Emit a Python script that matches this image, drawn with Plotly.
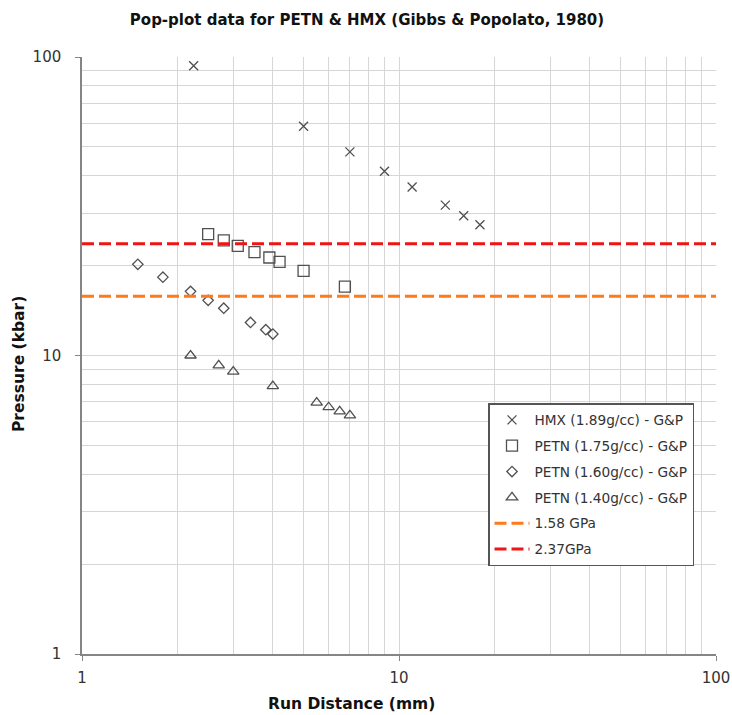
import plotly.graph_objects as go

# ---- data ----
hmx_x = [2.25, 5.0, 7.0, 9.0, 11.0, 14.0, 16.0, 18.0]
hmx_y = [93.5, 58.6, 48.1, 41.4, 36.7, 31.9, 29.4, 27.4]

petn175_x = [2.5, 2.8, 3.1, 3.5, 3.9, 4.2, 5.0, 6.75]
petn175_y = [25.5, 24.3, 23.3, 22.2, 21.3, 20.6, 19.2, 17.0]

petn160_x = [1.5, 1.8, 2.2, 2.5, 2.8, 3.4, 3.8, 4.0]
petn160_y = [20.2, 18.3, 16.4, 15.3, 14.4, 12.9, 12.2, 11.8]

petn140_x = [2.2, 2.7, 3.0, 4.0, 5.5, 6.0, 6.5, 7.0]
petn140_y = [10.0, 9.27, 8.83, 7.9, 6.95, 6.71, 6.5, 6.3]

line_x = [1, 100]
gpa158 = 15.8   # kbar
gpa237 = 23.7   # kbar

names = ["HMX (1.89g/cc) - G&P", "PETN (1.75g/cc) - G&P",
         "PETN (1.60g/cc) - G&P", "PETN (1.40g/cc) - G&P",
         "1.58 GPa", "2.37GPa"]

MK = "#505050"
FONT = "DejaVu Sans"

W, H = 732, 715
PL, PT, PR, PB = 82, 57, 716, 654   # plot area in window pixels

fig = go.Figure()
series = [
    (hmx_x, hmx_y, "x-thin-open", 9),
    (petn175_x, petn175_y, "square-open", 11),
    (petn160_x, petn160_y, "diamond-open", 8),
    (petn140_x, petn140_y, "triangle-up-open", 10),
]
for i, (xs, ys, sym, sz) in enumerate(series):
    fig.add_trace(go.Scatter(
        x=xs, y=ys, mode="markers", name=names[i], legendgroup=f"g{i}",
        marker=dict(symbol=sym, size=sz, color=MK, line=dict(color=MK, width=1.3)),
    ))

fig.add_trace(go.Scatter(x=line_x, y=[gpa158, gpa158], mode="lines", name=names[4],
                         legendgroup="g4",
                         line=dict(color="#ff7a1a", width=3, dash="12px,5px")))
fig.add_trace(go.Scatter(x=line_x, y=[gpa237, gpa237], mode="lines", name=names[5],
                         legendgroup="g5",
                         line=dict(color="#f01414", width=3, dash="12px,5px")))

axis_common = dict(
    type="log", range=[0, 2],
    tickvals=[1, 10, 100], ticktext=["1", "10", "100"],
    showline=True, linecolor="#858585", linewidth=1.5, mirror=False,
    showgrid=True, gridcolor="#d6d6d6", gridwidth=1,
    ticks="outside", ticklen=5, tickcolor="#858585",
    tickfont=dict(family=FONT, size=15, color="#333333"),
    zeroline=False,
    minor=dict(dtick="D1", showgrid=True, gridcolor="#d6d6d6", gridwidth=1, ticks=""),
)

pw, ph = PR - PL, PB - PT

fig.update_layout(
    width=W, height=H,
    margin=dict(l=PL, r=W - PR, t=PT, b=H - PB, autoexpand=False),
    paper_bgcolor="white", plot_bgcolor="white",
    font=dict(family=FONT, color="#333333"),
    title=dict(text="<b>Pop-plot data for PETN & HMX (Gibbs & Popolato, 1980)</b>",
               x=367 / W, xanchor="center", y=1 - 20 / H, yanchor="middle",
               font=dict(family=FONT, size=15, color="#111111")),
    xaxis=dict(ticklabelstandoff=4, **axis_common),
    yaxis=dict(ticklabelstandoff=11, **axis_common),
    showlegend=True,
    legend=dict(
        x=(488 - PL) / pw, y=(PB - 403) / ph, xanchor="left", yanchor="top",
        bgcolor="white", bordercolor="#555555", borderwidth=1.5,
        font=dict(family=FONT, size=13.7, color="#333333"),
        traceorder="grouped", tracegroupgap=5,
        itemwidth=35,
    ),
    annotations=[
        dict(text="<b>Run Distance (mm)</b>", xref="paper", yref="paper",
             x=(351 - PL) / pw, y=-(704 - PB) / ph, xanchor="center", yanchor="middle",
             showarrow=False, font=dict(family=FONT, size=15.5, color="#111111")),
        dict(text="<b>Pressure (kbar)</b>", xref="paper", yref="paper",
             x=-(PL - 19) / pw, y=(PB - 364) / ph, xanchor="center", yanchor="middle",
             textangle=-90, showarrow=False, font=dict(family=FONT, size=15.5, color="#111111")),
    ],
)

fig.write_html(
    "out.html",
    config={"displayModeBar": False},
    post_script="document.body.style.margin='0';"
                "document.documentElement.style.overflow='hidden';",
)
